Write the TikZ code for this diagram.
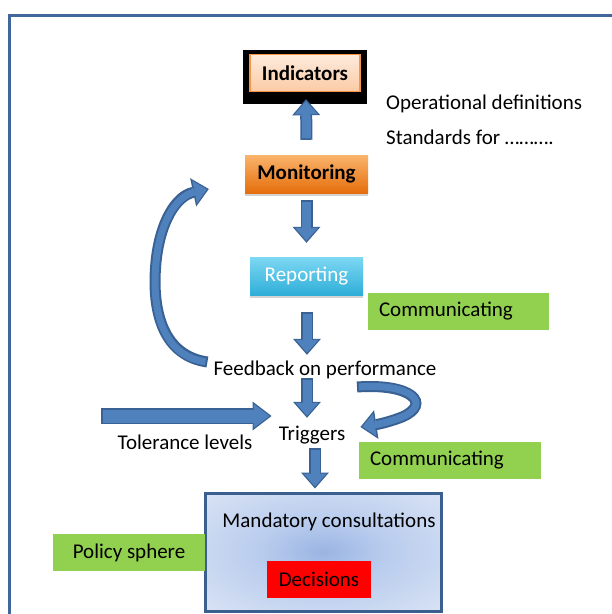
\documentclass[tikz,border=0pt]{standalone}
\usepackage{fontspec}
\setmainfont{Carlito}
\usetikzlibrary{arrows.meta,shadows}

\definecolor{arrowblue}{HTML}{4F81BD}
\definecolor{arrowedge}{HTML}{3A6193}
\definecolor{framecol}{HTML}{41669A}
\definecolor{leafgreen}{HTML}{92D050}
\definecolor{peachtop}{HTML}{FDEBDD}
\definecolor{peachbot}{HTML}{FBCBA5}
\definecolor{peachedge}{HTML}{F79646}
\definecolor{orangetop}{HTML}{FAB46C}
\definecolor{orangebot}{HTML}{E56E0C}
\definecolor{cyantop}{HTML}{7DD8F3}
\definecolor{cyanbot}{HTML}{2FAED8}
\definecolor{consultin}{HTML}{9AB5E3}
\definecolor{consultmid}{HTML}{BACDEE}
\definecolor{consultout}{HTML}{DFE7F5}
\definecolor{consultedge}{HTML}{3B5F8F}

\pgfdeclareradialshading{consultshade}{\pgfpoint{0bp}{0bp}}{%
  color(0bp)=(consultin); color(14bp)=(consultmid); color(40bp)=(consultout); color(75bp)=(consultout)}

\tikzset{
  blockarrow/.style={line width=12pt, draw=arrowedge,
    -{Triangle[length=16pt,width=28pt,line width=0pt]},
    postaction={draw=arrowblue, line width=9pt, shorten >=2pt, shorten <=1.5pt,
      -{Triangle[length=13pt,width=23pt,line width=0pt]}}},
  widearrow/.style={line width=16pt, draw=arrowedge,
    -{Triangle[length=19pt,width=29pt,line width=0pt]},
    postaction={draw=arrowblue, line width=13pt, shorten >=2pt, shorten <=1.5pt,
      -{Triangle[length=16pt,width=24pt,line width=0pt]}}},
  curvearrow/.style={line width=11pt, draw=arrowedge,
    -{Triangle[length=16pt,width=29pt,line width=0pt]},
    postaction={draw=arrowblue, line width=7pt, shorten >=2pt, shorten <=2pt,
      -{Triangle[length=12.5pt,width=23pt,line width=0pt]}}},
  plaintext/.style={inner sep=0pt, text height=16pt, text depth=2pt},
  stepbox/.style={minimum height=38pt, inner sep=0pt,
    drop shadow={opacity=0.35, shadow xshift=0pt, shadow yshift=-2.5pt}},
  greenbox/.style={fill=leafgreen, minimum height=37pt, inner sep=0pt},
}

\begin{document}
\begin{tikzpicture}[x=1pt,y=-1pt, every node/.append style={font=\fontsize{21}{25}\selectfont}]
  \useasboundingbox (0,0) rectangle (612,614);
  % outer frame
  \draw[framecol, line width=3pt] (9.5,614) -- (9.5,15.5) -- (612,15.5);

  % upper chain
  \node[fill=black, minimum width=124pt, minimum height=54pt, inner sep=0pt] (indframe) at (305,77) {};
  \node[top color=peachtop, bottom color=peachbot, draw=peachedge, line width=1.5pt,
        minimum width=110pt, minimum height=37pt, inner sep=0pt] (indicators) at (305,73) {\bfseries Indicators};
  \node[plaintext, anchor=west] (opdef) at (386,102) {Operational definitions};
  \node[plaintext, anchor=west] (standards) at (386,137) {Standards for ……….};

  \node[stepbox, top color=orangetop, bottom color=orangebot, minimum width=123pt] (monitoring) at (306.5,174) {\bfseries Monitoring};
  \node[stepbox, top color=cyantop, bottom color=cyanbot, minimum width=113pt, text=white] (reporting) at (306.5,276) {Reporting};
  \node[greenbox, minimum width=181pt, text width=159pt, align=left] (comm1) at (458.5,311.5) {Communicating};

  \node[plaintext] (feedback) at (325,368) {Feedback on performance};
  \node[plaintext] (triggers) at (312,433) {Triggers};
  \node[plaintext] (tolerance) at (185,442) {Tolerance levels};
  \node[greenbox, minimum width=182pt, text width=160pt, align=left] (comm2) at (450,460) {Communicating};

  % consultation box
  \node[draw=consultedge, line width=3pt, shading=consultshade,
        minimum width=236pt, minimum height=118pt, inner sep=0pt] (consult) at (323,552) {};
  \node[plaintext] (mandatory) at (329,520) {Mandatory consultations};
  \node[fill=red, minimum width=104pt, minimum height=37pt, inner sep=0pt] (decisions) at (319,579.5) {Decisions};
  \node[greenbox, minimum width=152pt] (policy) at (129,552.5) {Policy sphere};

  % free ends
  \coordinate (tolstart) at (101,416);
  \coordinate (uturn) at (357,387);

  % straight arrows
  \draw[blockarrow] ([yshift=15pt]monitoring.north) -- ([xshift=1pt,yshift=5pt]indframe.south);
  \draw[blockarrow] ([yshift=-7pt]monitoring.south) -- ([yshift=14pt]reporting.north);
  \draw[blockarrow] ([xshift=0.5pt,yshift=-17pt]reporting.south) -- ([xshift=-18pt,yshift=4pt]feedback.north);
  \draw[blockarrow] ([xshift=-18pt,yshift=-1pt]feedback.south) -- ([xshift=-5pt,yshift=6pt]triggers.north);
  \draw[blockarrow] ([xshift=3pt,yshift=-6pt]triggers.south) -- ([xshift=-8pt,yshift=3pt]consult.north);
  \draw[widearrow] (tolstart) -- ([xshift=-7pt,yshift=17pt]triggers.west);

  % curved arrows
  \draw[curvearrow] ([xshift=-6pt,yshift=6pt]feedback.west)
    .. controls (165,356) and (151,315) .. (156,262)
    .. controls (160,222) and (176,196) .. ([xshift=-36pt,yshift=-15pt]monitoring.west);
  \draw[curvearrow] (uturn)
    .. controls (412,383) and (432,404) .. (402,417)
    .. controls (392,421) and (380,424) .. ([xshift=15pt,yshift=6pt]triggers.east);
\end{tikzpicture}
\end{document}
